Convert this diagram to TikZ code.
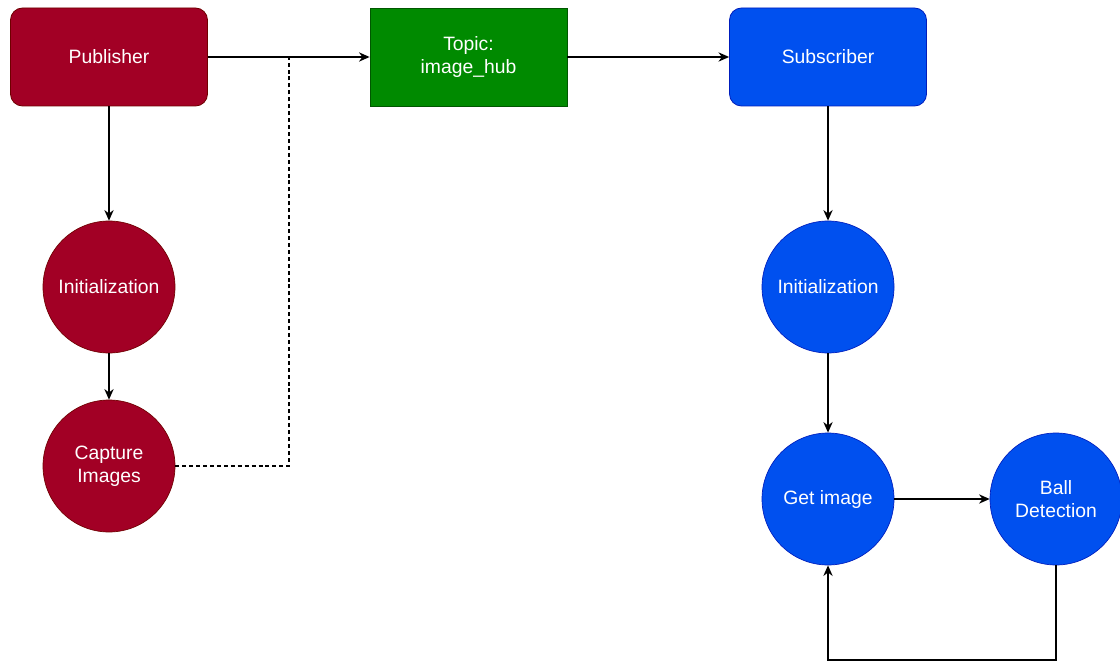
\documentclass[tikz,border=0pt]{standalone}
\usepackage{fontspec}
\setmainfont{Liberation Sans}
\usetikzlibrary{arrows.meta}
\definecolor{crimson}{HTML}{A20025}
\definecolor{crimsonline}{HTML}{6F0000}
\definecolor{topicgreen}{HTML}{008A00}
\definecolor{topicline}{HTML}{005700}
\definecolor{subblue}{HTML}{0050EF}
\definecolor{subline}{HTML}{001DBC}
\tikzset{
  label font/.style={font=\fontsize{14.5}{17.5}\selectfont},
  box/.style={rounded corners=9pt, minimum width=147.75pt, minimum height=73.5pt,
    text=white, label font, align=center, inner sep=0pt},
  pubbox/.style={box, fill=crimson, draw=crimsonline, line width=0.6pt},
  subbox/.style={box, fill=subblue, draw=subline, line width=0.6pt},
  topicbox/.style={box, rounded corners=0pt, fill=topicgreen, draw=topicline, line width=0.6pt},
  state/.style={circle, minimum size=99pt, inner sep=0pt, text=white,
    label font, align=center},
  pubstate/.style={state, fill=crimson, draw=crimsonline, line width=0.5pt},
  substate/.style={state, fill=subblue, draw=subline, line width=0.5pt},
  flow/.style={draw=black, line width=1pt, -{Stealth[length=8pt,width=7pt]}},
  link/.style={draw=black, line width=1pt},
}
\begin{document}
\begin{tikzpicture}[x=0.75pt, y=-0.75pt]
\useasboundingbox (0,0) rectangle (1120,663);

% publisher side
\node[pubbox] (pub) at (109,57) {Publisher};
\node[pubstate] (pinit) at (109,287) {Initialization};
\node[pubstate] (cap) at (109,466) {Capture\\Images};

% topic
\node[topicbox] (topic) at (468.5,57) {Topic:\\image\_hub};

% subscriber side
\node[subbox] (sub) at (828,57) {Subscriber};
\node[substate] (sinit) at (828,287) {Initialization};
\node[substate] (get) at (828,499) {Get image};
\node[substate] (ball) at (1056,499) {Ball\\Detection};

\coordinate (join) at (289,57);
\coordinate (loopR) at (1056,660);
\coordinate (loopL) at (828,660);

\draw[flow] (pub.east) -- (topic.west);
\draw[flow] (topic.east) -- (sub.west);
\draw[flow] (pub.south) -- (pinit.north);
\draw[flow] (pinit.south) -- (cap.north);
\draw[link, dashed, dash pattern=on 3pt off 2.2pt] (cap.east) -| (join);

\draw[flow] (sub.south) -- (sinit.north);
\draw[flow] (sinit.south) -- (get.north);
\draw[flow] (get.east) -- (ball.west);
\draw[flow] (ball.south) -- (loopR) -- (loopL) -- (get.south);
\end{tikzpicture}
\end{document}
